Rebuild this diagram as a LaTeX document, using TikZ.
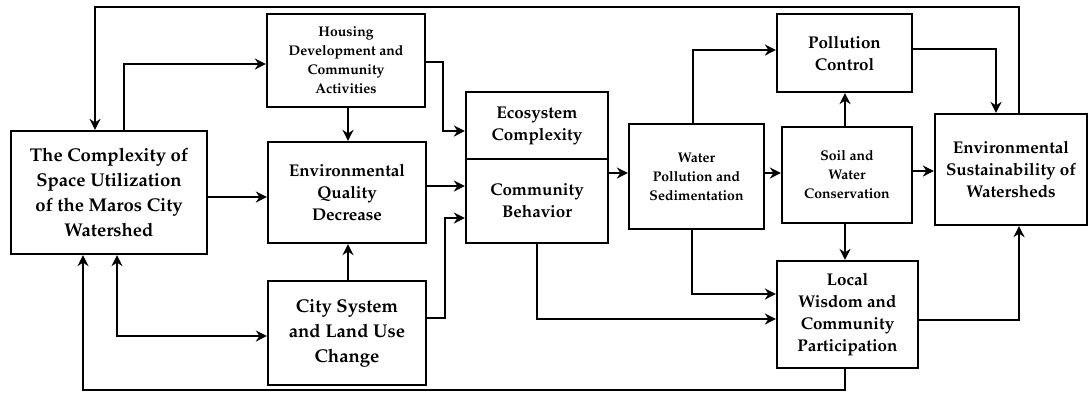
\documentclass[tikz,border=0pt]{standalone}
\usepackage[T1]{fontenc}
\usepackage{mathpazo}
\usetikzlibrary{arrows.meta}
\tikzset{
  box/.style={draw, line width=2.2pt, inner sep=0pt, align=center, font=\bfseries},
  big/.style={font=\bfseries\fontsize{18.5}{25}\selectfont},
  mid/.style={font=\bfseries\fontsize{17}{22}\selectfont},
  sml/.style={font=\bfseries\fontsize{14}{19}\selectfont},
  arr/.style={line width=2.2pt, -{Stealth[length=11pt,width=11pt,inset=3.5pt]}},
  darr/.style={line width=2.2pt, {Stealth[length=11pt,width=11pt,inset=3.5pt]}-{Stealth[length=11pt,width=11pt,inset=3.5pt]}},
}
\begin{document}
\begin{tikzpicture}[x=1pt,y=-1pt]
\useasboundingbox (0,0) rectangle (1089,392);
\node[box,big,minimum width=196pt,minimum height=123pt] (A) at (109,192.5) {The Complexity of\\Space Utilization\\of the Maros City\\Watershed};
\node[box,sml,minimum width=158pt,minimum height=93pt] (H) at (346,60.5) {Housing\\Development and\\Community\\Activities};
\node[box,mid,minimum width=158pt,minimum height=101pt] (E) at (347,192.5) {Environmental\\Quality\\Decrease};
\node[box,big,minimum width=158pt,minimum height=104pt] (C) at (347,333) {City System\\and Land Use\\Change};
\node[box,mid,minimum width=142pt,minimum height=67pt] (Eco) at (537,125.5) {Ecosystem\\Complexity};
\node[box,mid,minimum width=142pt,minimum height=84pt] (CB) at (537,201) {Community\\Behavior};
\node[box,sml,minimum width=135pt,minimum height=105pt] (W) at (696.5,176.5) {Water\\Pollution and\\Sedimentation};
\node[box,mid,minimum width=135pt,minimum height=78pt] (P) at (844.5,53) {Pollution\\Control};
\node[box,sml,minimum width=130pt,minimum height=96pt] (S) at (847,175) {Soil and\\Water\\Conservation};
\node[box,mid,minimum width=152pt,minimum height=111pt] (ES) at (1011,169.5) {Environmental\\Sustainability of\\Watersheds};
\node[box,mid,minimum width=141pt,minimum height=107pt] (L) at (847.5,314.5) {Local\\Wisdom and\\Community\\Participation};

\draw[arr] (ES.north -| 1019,0) -- (1019,7) -| (A.north -| 95,0);
\draw[arr] (A.north -| 124,0) |- (H.west |- 0,64);
\draw[arr] (H.east |- 0,62) -- (443,62) |- (Eco.west |- 0,131);
\draw[arr] (H.south -| 348,0) -- (E.north -| 348,0);
\draw[arr] (A.east |- 0,197) -- (E.west |- 0,197);
\draw[arr] (E.east |- 0,186) -- (CB.west |- 0,186);
\draw[arr] (C.north -| 348,0) -- (E.south -| 348,0);
\draw[arr] (C.east |- 0,318) -- (445,318) |- (CB.west |- 0,218);
\draw[darr] (A.south -| 117,0) |- (C.west |- 0,336);
\draw[arr] (L.south -| 845,0) -- (845,390) -| (A.south -| 83,0);
\draw[arr] (CB.east |- 0,173) -- (W.west |- 0,173);
\draw[arr] (W.north -| 693,0) |- (P.west |- 0,50);
\draw[arr] (W.east |- 0,173) -- (S.west |- 0,173);
\draw[arr] (W.south -| 692,0) |- (L.west |- 0,294);
\draw[arr] (CB.south -| 537,0) |- (L.west |- 0,319);
\draw[arr] (S.north -| 845,0) -- (P.south -| 845,0);
\draw[arr] (S.south -| 845,0) -- (L.north -| 845,0);
\draw[arr] (S.east |- 0,171) -- (ES.west |- 0,171);
\draw[arr] (P.east |- 0,49) -| (ES.north -| 996,0);
\draw[arr] (L.east |- 0,320) -| (ES.south -| 1019,0);
\end{tikzpicture}
\end{document}
